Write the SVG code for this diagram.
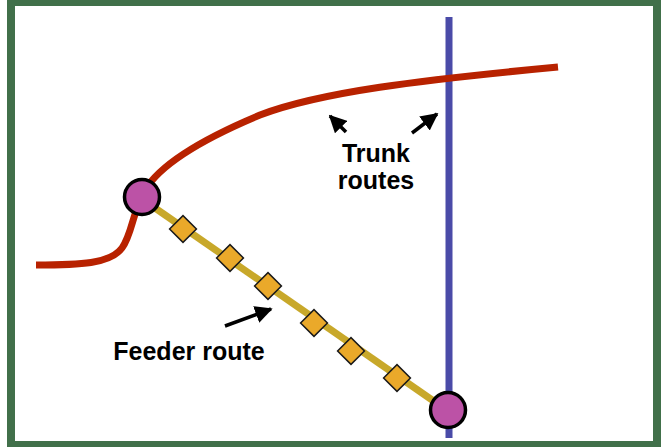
<svg xmlns="http://www.w3.org/2000/svg" width="662" height="447" viewBox="0 0 662 447">
<style>
.lbl{font-family:"Liberation Sans",Arial,sans-serif;font-weight:bold;font-size:25px;fill:#000}
.stop{fill:#bc52a6;stroke:#000;stroke-width:3.5}
.dia{fill:#eaa92a;stroke:#1a1a1a;stroke-width:1.5}
.arr{stroke:#000;stroke-width:3.5;fill:none;marker-end:url(#ah)}
</style>
<defs>
<marker id="ah" viewBox="0 0 10 10" refX="9" refY="5" markerWidth="5" markerHeight="5" orient="auto" markerUnits="strokeWidth">
<path d="M0,0 L10,5 L0,10 z" fill="#000"/>
</marker>
</defs>
<rect x="0" y="0" width="662" height="447" fill="#fff"/>
<rect x="11" y="2" width="646" height="443" fill="none" stroke="#41704a" stroke-width="8"/>
<g id="connectors">
<path id="trunk-blue" d="M449,17 L449,438" stroke="#4a4ba8" stroke-width="7" fill="none"/>
<path id="trunk-red" d="M36,265 C80,265 110,264 122,248 C132,235 133,210 145,190 C160,165 200,140 260,115 C320,92 420,80 558,67" stroke="#b82200" stroke-width="7" fill="none"/>
<path id="feeder" d="M142,199 L448,411" stroke="#c8a82a" stroke-width="7" fill="none"/>
<path class="arr" d="M346,132 L330,116"/>
<path class="arr" d="M412,133 L437,114"/>
<path class="arr" d="M225,326 L271,309"/>
</g>
<g id="stop-1"><circle class="stop" cx="142" cy="197" r="17.5"/></g>
<g id="stop-2"><circle class="stop" cx="448" cy="410" r="17.5"/></g>
<g id="stops-feeder">
<rect class="dia" x="-9.5" y="-9.5" width="19" height="19" transform="translate(183,229) rotate(45)"/>
<rect class="dia" x="-9.5" y="-9.5" width="19" height="19" transform="translate(230,258) rotate(45)"/>
<rect class="dia" x="-9.5" y="-9.5" width="19" height="19" transform="translate(268,286) rotate(45)"/>
<rect class="dia" x="-9.5" y="-9.5" width="19" height="19" transform="translate(314,323) rotate(45)"/>
<rect class="dia" x="-9.5" y="-9.5" width="19" height="19" transform="translate(351,351) rotate(45)"/>
<rect class="dia" x="-9.5" y="-9.5" width="19" height="19" transform="translate(397,378) rotate(45)"/>
</g>
<g id="label-trunk">
<text class="lbl" x="376" y="161.5" text-anchor="middle">Trunk</text>
<text class="lbl" x="376" y="189" text-anchor="middle">routes</text>
</g>
<g id="label-feeder">
<text class="lbl" x="189" y="360" text-anchor="middle">Feeder route</text>
</g>
</svg>
